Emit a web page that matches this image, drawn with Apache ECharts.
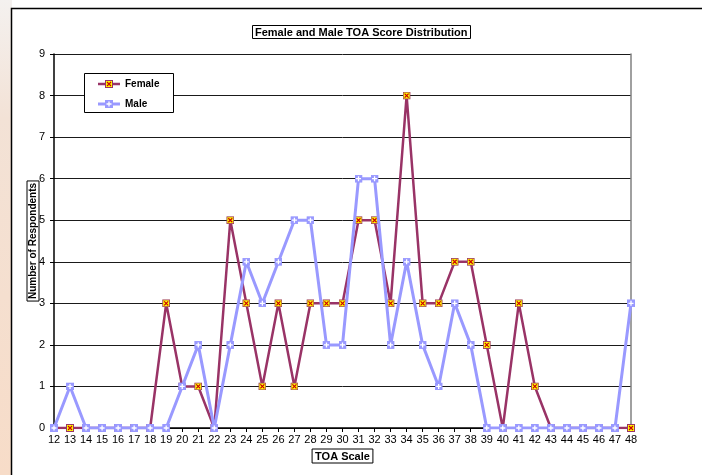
<!DOCTYPE html>
<html>
<head>
<meta charset="utf-8">
<script src="https://cdn.jsdelivr.net/npm/echarts@6/dist/echarts.min.js"></script>
<style>
  html, body { margin: 0; padding: 0; background: #fff; }
  #chart { width: 702px; height: 475px; }
</style>
</head>
<body>
<div id="chart"></div>
<script>
// TOA score categories (x axis)
const scores = ['12','13','14','15','16','17','18','19','20','21','22','23','24','25','26','27','28','29','30',
                '31','32','33','34','35','36','37','38','39','40','41','42','43','44','45','46','47','48'];
// Respondent counts per score
const female = [0,0,0,0,0,0,0,3,1,1,0,5,3,1,3,1,3,3,3,5,5,3,8,3,3,4,4,2,0,3,1,0,0,0,0,0,0];
const male   = [0,1,0,0,0,0,0,0,1,2,0,2,4,3,4,5,5,2,2,6,6,2,4,2,1,3,2,0,0,0,0,0,0,0,0,0,3];
const yTicks = [0,1,2,3,4,5,6,7,8,9];

const FEMALE_COLOR = '#993366';
const MALE_COLOR = '#9999FF';
const FONT = 'Liberation Sans, Arial, sans-serif';

function svgUrl(svg) {
  return 'image://data:image/svg+xml;utf8,' + encodeURIComponent(svg);
}
// yellow square with a dark red cross
const femaleMarkSvg = '<svg xmlns="http://www.w3.org/2000/svg" width="8" height="8" viewBox="0 0 8 8">' +
  '<rect x="0.5" y="0.5" width="7" height="7" fill="#FFFF00" stroke="#993366" stroke-width="1"/>' +
  '<path d="M2 2L6 6M6 2L2 6" stroke="#CC0000" stroke-width="1.2"/></svg>';
// lavender square with a white plus
const maleMarkSvg = '<svg xmlns="http://www.w3.org/2000/svg" width="8" height="8" viewBox="0 0 8 8">' +
  '<rect x="0.5" y="0.5" width="7" height="7" fill="#9999FF" stroke="#9999FF" stroke-width="1"/>' +
  '<path d="M4 1.5V6.5M1.5 4H6.5" stroke="#FFFFFF" stroke-width="1.3"/></svg>';
// legend icons: line segment with the marker in the middle
const femaleLegendSvg = '<svg xmlns="http://www.w3.org/2000/svg" width="22" height="8" viewBox="0 0 22 8">' +
  '<path d="M0 4H22" stroke="#993366" stroke-width="2.5"/>' +
  '<rect x="7.5" y="0.5" width="7" height="7" fill="#FFFF00" stroke="#993366" stroke-width="1"/>' +
  '<path d="M9 2L13 6M13 2L9 6" stroke="#CC0000" stroke-width="1.2"/></svg>';
const maleLegendSvg = '<svg xmlns="http://www.w3.org/2000/svg" width="22" height="8" viewBox="0 0 22 8">' +
  '<path d="M0 4H22" stroke="#9999FF" stroke-width="3"/>' +
  '<rect x="7.5" y="0.5" width="7" height="7" fill="#9999FF" stroke="#9999FF" stroke-width="1"/>' +
  '<path d="M11 1.5V6.5M8.5 4H13.5" stroke="#FFFFFF" stroke-width="1.3"/></svg>';

const chart = echarts.init(document.getElementById('chart'), null, { renderer: 'canvas' });

chart.setOption({
  backgroundColor: '#ffffff',
  animation: false,
  textStyle: { fontFamily: FONT },
  graphic: [
    // peach strip on the far left
    {
      type: 'rect', z: -10, silent: true,
      shape: { x: 0, y: 0, width: 12, height: 475 },
      style: {
        fill: new echarts.graphic.LinearGradient(0, 0, 0, 1, [
          { offset: 0, color: '#f4f1ef' },
          { offset: 0.25, color: '#f3e2d6' },
          { offset: 1, color: '#f7dcc8' }
        ])
      }
    },
    // chart frame
    {
      type: 'rect', z: -9, silent: true,
      shape: { x: 11.5, y: 8.5, width: 700, height: 480 },
      style: { fill: '#ffffff', stroke: '#000000', lineWidth: 1.5 }
    },
    // legend box
    {
      type: 'rect', z: 5, silent: true,
      shape: { x: 84.5, y: 73.5, width: 89, height: 39 },
      style: { fill: '#ffffff', stroke: '#000000', lineWidth: 1 }
    }
  ],
  title: {
    text: 'Female and Male TOA Score Distribution',
    left: 252, top: 25,
    padding: [2, 3, 1, 3],
    borderColor: '#000', borderWidth: 1,
    textStyle: { fontFamily: FONT, fontSize: 11, fontWeight: 'bold', color: '#000' }
  },
  legend: {
    left: 98, top: 79, z: 6,
    orient: 'vertical',
    itemWidth: 22, itemHeight: 8, itemGap: 10,
    padding: 0,
    textStyle: { fontFamily: FONT, fontSize: 10, fontWeight: 'bold', color: '#000' },
    data: [
      { name: 'Female', icon: svgUrl(femaleLegendSvg) },
      { name: 'Male', icon: svgUrl(maleLegendSvg) }
    ]
  },
  grid: { left: 54, right: 71, top: 54, bottom: 47 },
  xAxis: {
    type: 'category',
    data: scores,
    boundaryGap: false,
    name: 'TOA Scale',
    nameLocation: 'middle',
    nameGap: 21,
    nameMoveOverlap: false,
    nameTextStyle: {
      fontFamily: FONT, fontSize: 11, fontWeight: 'bold', color: '#000',
      borderColor: '#000', borderWidth: 1, padding: [2, 3, 1, 3],
      verticalAlign: 'top'
    },
    axisLine: { lineStyle: { color: '#000', width: 1.5 } },
    axisTick: { show: true, length: 4, lineStyle: { color: '#000' } },
    axisLabel: { color: '#000', fontSize: 11, margin: 6, interval: 0, fontFamily: FONT },
    splitLine: { show: false }
  },
  yAxis: [
    {
      type: 'value',
      min: yTicks[0], max: yTicks[yTicks.length - 1], interval: 1,
      name: 'Number of Respondents',
      nameLocation: 'middle',
      nameGap: 15,
      nameMoveOverlap: false,
      nameRotate: 90,
      nameTextStyle: {
        fontFamily: FONT, fontSize: 10, fontWeight: 'bold', color: '#000',
        borderColor: '#000', borderWidth: 1, padding: [1, 2, 1, 2]
      },
      axisLine: { show: true, lineStyle: { color: '#000', width: 1.5 } },
      axisTick: { show: true, length: 4, inside: false, lineStyle: { color: '#000' } },
      axisLabel: { color: '#000', fontSize: 11, margin: 9, fontFamily: FONT },
      splitLine: { show: true, lineStyle: { color: '#1a1a1a', width: 1 } }
    },
    {
      type: 'value', position: 'right',
      min: yTicks[0], max: yTicks[yTicks.length - 1], interval: 1,
      axisLine: { show: true, lineStyle: { color: '#808080', width: 1.5 } },
      axisTick: { show: false }, axisLabel: { show: false }, splitLine: { show: false }
    }
  ],
  series: [
    {
      name: 'Female', type: 'line', data: female, z: 3,
      symbol: svgUrl(femaleMarkSvg), symbolSize: 8,
      lineStyle: { color: FEMALE_COLOR, width: 2.5 },
      itemStyle: { color: FEMALE_COLOR }
    },
    {
      name: 'Male', type: 'line', data: male, z: 4,
      symbol: svgUrl(maleMarkSvg), symbolSize: 8,
      lineStyle: { color: MALE_COLOR, width: 3 },
      itemStyle: { color: MALE_COLOR }
    }
  ]
});
</script>
</body>
</html>
